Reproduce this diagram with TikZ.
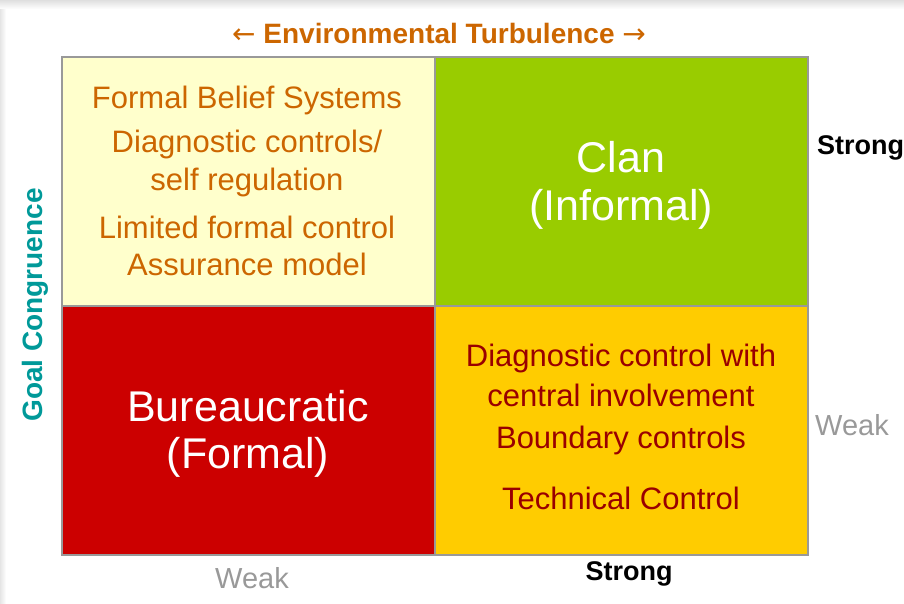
\documentclass[tikz,border=0pt]{standalone}
\usepackage{fontspec}
\setmainfont{Liberation Sans}
\newfontfamily\arrowfont{DejaVu Sans}
\usetikzlibrary{positioning}

\definecolor{paleyellow}{HTML}{FFFFCC}
\definecolor{clangreen}{HTML}{99CC00}
\definecolor{bureaured}{HTML}{CC0000}
\definecolor{amber}{HTML}{FFCC00}
\definecolor{rust}{HTML}{CC6600}
\definecolor{maroon}{HTML}{990000}
\definecolor{teal}{HTML}{009999}
\definecolor{gridgray}{HTML}{999999}

\tikzset{
  quad/.style={draw=gridgray,line width=2pt,minimum width=373pt,minimum height=249pt,inner sep=0pt,anchor=north west},
  small/.style={font=\fontsize{31}{34}\selectfont,inner sep=0pt},
  big/.style={font=\fontsize{43}{46}\selectfont,inner sep=0pt,text=white},
  axis/.style={font=\fontsize{27}{30}\selectfont\bfseries,inner sep=0pt},
  faint/.style={font=\fontsize{29}{32}\selectfont,inner sep=0pt,text=gridgray}
}

\begin{document}
\begin{tikzpicture}[x=1pt,y=-1pt]
  \useasboundingbox (0,0) rectangle (904,603);
  % window edge
  \shade[top color=gray!25,bottom color=white] (0,0) rectangle (904,9);
  \shade[left color=gray!20,right color=white] (0,9) rectangle (6,603);

  % quadrants
  \node[quad,fill=paleyellow] (tl) at (61,56) {};
  \node[quad,fill=clangreen] (tr) at (434,56) {};
  \node[quad,fill=bureaured] (bl) at (61,305) {};
  \node[quad,fill=amber] (br) at (434,305) {};

  % top left
  \node[small,text=rust] (fbs) at (247,100) {Formal Belief Systems};
  \node[small,text=rust] (dc) at (247,144) {Diagnostic controls/};
  \node[small,text=rust] (sr) at (247,182) {self regulation};
  \node[small,text=rust] (lfc) at (247,227) {Limited formal control};
  \node[small,text=rust] (am) at (247,264) {Assurance model};

  % top right
  \node[big] (clan) at (621,157) {Clan};
  \node[big] (inf) at (621,209) {(Informal)};

  % bottom left
  \node[big] (bur) at (248,406) {Bureaucratic};
  \node[big] (form) at (248,457) {(Formal)};

  % bottom right
  \node[small,text=maroon] (dcw) at (621,358) {Diagnostic control with};
  \node[small,text=maroon] (ci) at (621,395) {central involvement};
  \node[small,text=maroon] (bc) at (621,440) {Boundary controls};
  \node[small,text=maroon] (tc) at (621,498) {Technical Control};

  % axes
  \node[axis,text=rust,font=\fontsize{28}{30}\selectfont\bfseries] (env) at (439,33) {{\arrowfont\mdseries ←} Environmental Turbulence {\arrowfont\mdseries →}};
  \node[axis,text=teal,rotate=90,font=\fontsize{28}{30}\selectfont\bfseries] (goal) at (35,305) {Goal Congruence};
  \node[axis,anchor=west] (ystrong) at (817,148) {Strong};
  \node[faint,anchor=west] (yweak) at (815,425) {Weak};
  \node[faint] (xweak) at (252,578) {Weak};
  \node[axis] (xstrong) at (629,574) {Strong};
\end{tikzpicture}
\end{document}
